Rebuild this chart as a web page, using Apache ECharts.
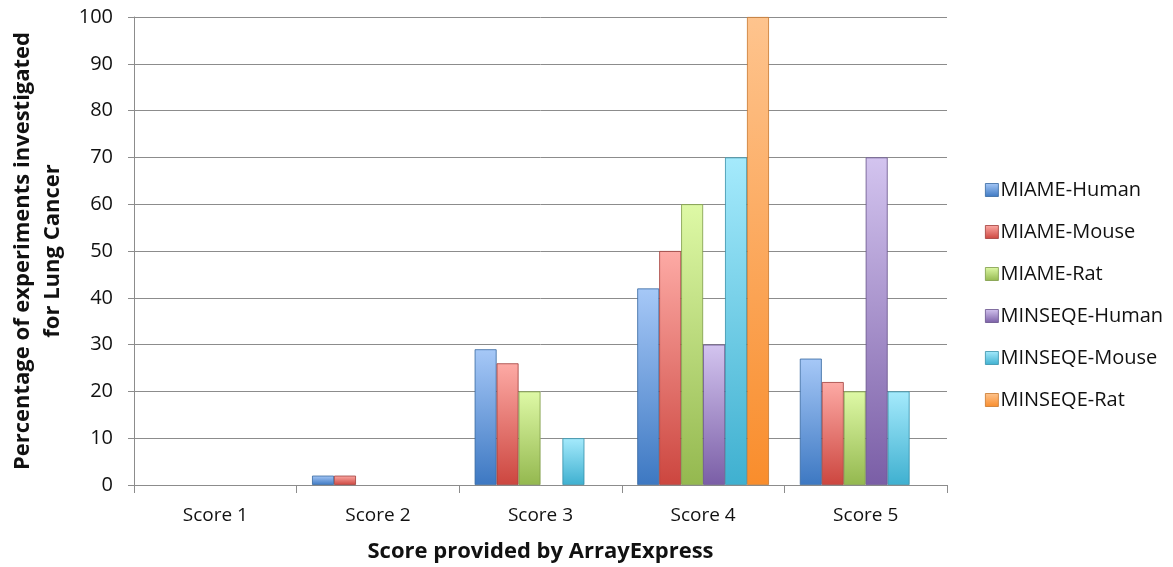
<!DOCTYPE html>
<html>
<head>
<meta charset="utf-8">
<script src="https://cdn.jsdelivr.net/npm/echarts@6/dist/echarts.min.js"></script>
<style>
  html, body { margin: 0; padding: 0; background: #fff; }
  #chart { width: 1173px; height: 567px; }
</style>
</head>
<body>
<div id="chart"></div>
<script>
// Score categories assigned by ArrayExpress
const categories = ['Score 1', 'Score 2', 'Score 3', 'Score 4', 'Score 5'];

// Percentage of experiments per score, one array per guideline/organism
const miameHuman   = [0, 2, 29, 42, 27];
const miameMouse   = [0, 2, 26, 50, 22];
const miameRat     = [0, 0, 20, 60, 20];
const minseqeHuman = [0, 0, 0, 30, 70];
const minseqeMouse = [0, 0, 10, 70, 20];
const minseqeRat   = [0, 0, 0, 100, 0];

const seriesNames = ['MIAME-Human', 'MIAME-Mouse', 'MIAME-Rat', 'MINSEQE-Human', 'MINSEQE-Mouse', 'MINSEQE-Rat'];
const seriesData = [miameHuman, miameMouse, miameRat, minseqeHuman, minseqeMouse, minseqeRat];

// [light top, base bottom, border]
const palette = [
  ['#a6c8f7', '#3d78c2', '#35679f'],
  ['#fdaaa5', '#cc463f', '#a03c38'],
  ['#def9a6', '#94b84f', '#7c9a45'],
  ['#d3c4ef', '#7a5ea6', '#66508a'],
  ['#a5eafc', '#3fb0d0', '#3690aa'],
  ['#fec48e', '#f98d2c', '#c8772c']
];

const fontFam = '"Open Sans", "DejaVu Sans", sans-serif';

const chart = echarts.init(document.getElementById('chart'), null, { renderer: 'canvas' });

const series = seriesNames.map((name, i) => ({
  name: name,
  type: 'bar',
  // zero-height bars get no outline so nothing shows on the baseline
  data: seriesData[i].map(v => ({
    value: v,
    itemStyle: { borderWidth: v === 0 ? 0 : 0.8 }
  })),
  barGap: '0%',
  barCategoryGap: '19%',
  itemStyle: {
    color: new echarts.graphic.LinearGradient(0, 0, 0, 1, [
      { offset: 0, color: palette[i][0] },
      { offset: 1, color: palette[i][1] }
    ]),
    borderColor: palette[i][2],
    borderWidth: 0.8
  }
}));

chart.setOption({
  animation: false,
  backgroundColor: '#ffffff',
  color: palette.map(p => p[1]),
  grid: {
    left: 134, right: 226, top: 17, bottom: 82,
    containLabel: false,
    outerBoundsMode: 'none'
  },
  legend: {
    orient: 'vertical',
    left: 980,
    top: 175,
    itemGap: 22,
    itemWidth: 13,
    itemHeight: 13,
    icon: 'rect',
    data: seriesNames.map((n, i) => ({
      name: n,
      itemStyle: { borderColor: palette[i][2], borderWidth: 0.8 }
    })),
    textStyle: { fontFamily: fontFam, fontSize: 20, color: '#111', padding: [0, 0, 0, -3] }
  },
  xAxis: {
    type: 'category',
    data: categories,
    name: 'Score provided by ArrayExpress',
    nameLocation: 'middle',
    nameGap: 56,
    nameTextStyle: { fontFamily: fontFam, fontSize: 22, fontWeight: 'bold', color: '#111' },
    axisLine: { lineStyle: { color: '#8c8c8c', width: 1 } },
    axisTick: { show: true, length: 8, alignWithLabel: false, lineStyle: { color: '#8c8c8c' } },
    axisLabel: { fontFamily: fontFam, fontSize: 19, color: '#111', margin: 21 }
  },
  yAxis: {
    type: 'value',
    min: 0,
    max: 100,
    interval: 10,
    name: 'Percentage of experiments investigated\nfor Lung Cancer',
    nameLocation: 'middle',
    nameGap: 64,
    nameTextStyle: { fontFamily: fontFam, fontSize: 22, fontWeight: 'bold', color: '#111', lineHeight: 30 },
    axisLine: { show: true, lineStyle: { color: '#8c8c8c', width: 1 } },
    axisTick: { show: true, length: 6, lineStyle: { color: '#8c8c8c' } },
    axisLabel: { fontFamily: fontFam, fontSize: 20, color: '#111', margin: 21 },
    splitLine: { show: true, lineStyle: { color: '#8c8c8c', width: 1 } }
  },
  series: series
});
</script>
</body>
</html>
